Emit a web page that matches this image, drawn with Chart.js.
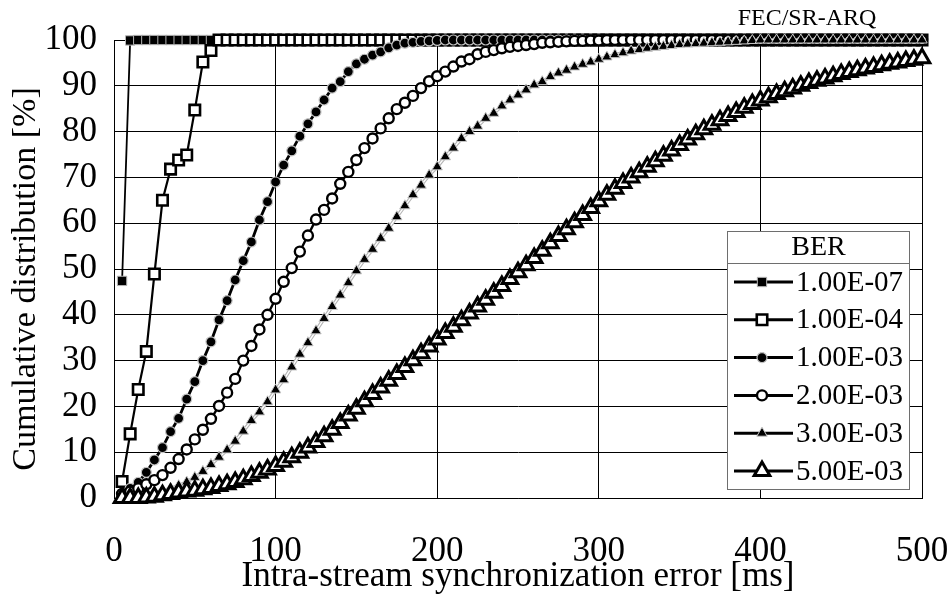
<!DOCTYPE html>
<html>
<head>
<meta charset="utf-8">
<script src="https://cdn.jsdelivr.net/npm/chart.js@4/dist/chart.umd.min.js"></script>
<style>
  html, body { margin: 0; padding: 0; background: #fff; }
  #wrap { width: 951px; height: 598px; }
</style>
</head>
<body>
<div id="wrap"><canvas id="c" width="951" height="598"></canvas></div>
<script>
// Intra-stream synchronization error (ms) at which each CDF sample is taken
const delayMs = [
  5, 10, 15, 20, 25, 30, 35, 40, 45, 50,
  55, 60, 65, 70, 75, 80, 85, 90, 95, 100,
  105, 110, 115, 120, 125, 130, 135, 140, 145, 150,
  155, 160, 165, 170, 175, 180, 185, 190, 195, 200,
  205, 210, 215, 220, 225, 230, 235, 240, 245, 250,
  255, 260, 265, 270, 275, 280, 285, 290, 295, 300,
  305, 310, 315, 320, 325, 330, 335, 340, 345, 350,
  355, 360, 365, 370, 375, 380, 385, 390, 395, 400,
  405, 410, 415, 420, 425, 430, 435, 440, 445, 450,
  455, 460, 465, 470, 475, 480, 485, 490, 495, 500
];

const berLabels = ['1.00E-07', '1.00E-04', '1.00E-03', '2.00E-03', '3.00E-03', '5.00E-03'];

// Cumulative distribution [%] per bit error rate
const ber1e7 = [
  47.4, 99.9, 100, 100, 100, 100, 100, 100, 100, 100,
  100, 100, 100, 100, 100, 100, 100, 100, 100, 100,
  100, 100, 100, 100, 100, 100, 100, 100, 100, 100,
  100, 100, 100, 100, 100, 100, 100, 100, 100, 100,
  100, 100, 100, 100, 100, 100, 100, 100, 100, 100,
  100, 100, 100, 100, 100, 100, 100, 100, 100, 100,
  100, 100, 100, 100, 100, 100, 100, 100, 100, 100,
  100, 100, 100, 100, 100, 100, 100, 100, 100, 100,
  100, 100, 100, 100, 100, 100, 100, 100, 100, 100,
  100, 100, 100, 100, 100, 100, 100, 100, 100, 100
];
const ber1e4 = [
  3.6, 14.0, 23.7, 32.0, 48.9, 65.0, 71.8, 73.8, 74.9, 84.7,
  95.2, 97.7, 100, 100, 100, 100, 100, 100, 100, 100,
  100, 100, 100, 100, 100, 100, 100, 100, 100, 100,
  100, 100, 100, 100, 100, 100, 100, 100, 100, 100,
  100, 100, 100, 100, 100, 100, 100, 100, 100, 100,
  100, 100, 100, 100, 100, 100, 100, 100, 100, 100,
  100, 100, 100, 100, 100, 100, 100, 100, 100, 100,
  100, 100, 100, 100, 100, 100, 100, 100, 100, 100,
  100, 100, 100, 100, 100, 100, 100, 100, 100, 100,
  100, 100, 100, 100, 100, 100, 100, 100, 100, 100
];
const ber1e3 = [
  1.0, 2.1, 3.4, 5.6, 8.3, 11.0, 14.5, 17.4, 21.6, 25.4,
  30.0, 34.1, 38.9, 43.1, 47.6, 51.8, 55.9, 60.7, 64.7, 69.0,
  72.7, 75.8, 79.0, 81.7, 84.3, 86.9, 89.5, 90.9, 93.1, 94.8,
  95.8, 96.7, 97.4, 98.3, 98.9, 99.3, 99.5, 99.7, 99.8, 99.9,
  100, 100, 100, 100, 100, 100, 100, 100, 100, 100,
  100, 100, 100, 100, 100, 100, 100, 100, 100, 100,
  100, 100, 100, 100, 100, 100, 100, 100, 100, 100,
  100, 100, 100, 100, 100, 100, 100, 100, 100, 100,
  100, 100, 100, 100, 100, 100, 100, 100, 100, 100,
  100, 100, 100, 100, 100, 100, 100, 100, 100, 100
];
const ber2e3 = [
  0.9, 1.4, 2.1, 3.0, 3.9, 5.0, 6.6, 8.5, 10.6, 12.8,
  14.9, 17.3, 20.1, 23.0, 26.0, 30.0, 33.2, 36.8, 40.0, 43.5,
  47.2, 50.2, 53.8, 57.3, 60.8, 62.9, 65.4, 68.6, 71.2, 73.8,
  76.4, 78.5, 80.7, 82.9, 84.9, 86.3, 87.8, 89.5, 91.0, 92.1,
  93.1, 94.2, 95.3, 95.8, 96.9, 97.4, 97.8, 98.2, 98.5, 98.7,
  98.9, 99.1, 99.4, 99.5, 99.6, 99.7, 99.8, 99.8, 99.9, 99.9,
  100, 100, 100, 100, 100, 100, 100, 100, 100, 100,
  100, 100, 100, 100, 100, 100, 100, 100, 100, 100,
  100, 100, 100, 100, 100, 100, 100, 100, 100, 100,
  100, 100, 100, 100, 100, 100, 100, 100, 100, 100
];
const ber3e3 = [
  0.2, 0.4, 0.6, 0.9, 1.2, 1.6, 2.1, 2.7, 3.5, 4.5,
  5.8, 7.3, 8.9, 10.5, 12.4, 14.6, 16.9, 18.8, 21.0, 23.6,
  25.8, 28.6, 31.4, 33.9, 36.5, 39.2, 41.8, 44.3, 47.0, 49.6,
  52.1, 54.3, 56.7, 58.9, 61.4, 63.8, 66.2, 68.3, 70.5, 72.3,
  74.5, 76.4, 78.5, 80.0, 81.2, 82.9, 84.0, 85.6, 86.9, 88.0,
  89.1, 90.2, 90.9, 92.0, 92.8, 93.4, 94.1, 94.7, 95.2, 95.8,
  96.3, 96.8, 97.2, 97.6, 97.9, 98.2, 98.4, 98.6, 98.8, 99.0,
  99.1, 99.2, 99.3, 99.4, 99.5, 99.6, 99.7, 99.8, 99.9, 100,
  100, 100, 100, 100, 100, 100, 100, 100, 100, 100,
  100, 100, 100, 100, 100, 100, 100, 100, 100, 100
];
const ber5e3 = [
  0, 0, 0, 0.1, 0.3, 0.6, 0.9, 1.2, 1.4, 1.6,
  1.9, 2.2, 2.6, 3.0, 3.5, 4.1, 4.8, 5.5, 6.2, 7.0,
  7.9, 8.9, 9.9, 11.0, 12.2, 13.5, 14.9, 16.4, 18.0, 19.5,
  21.1, 22.7, 24.1, 25.6, 27.1, 28.6, 30.1, 31.6, 33.1, 34.6,
  36.0, 37.4, 38.8, 40.3, 41.8, 43.3, 44.8, 46.3, 47.8, 49.3,
  50.8, 52.4, 54.0, 55.6, 57.2, 58.7, 60.2, 61.8, 63.3, 64.8,
  66.2, 67.5, 68.8, 70.0, 71.1, 72.3, 73.5, 74.7, 75.9, 77.1,
  78.3, 79.4, 80.5, 81.5, 82.5, 83.4, 84.3, 85.2, 86.0, 86.8,
  87.5, 88.2, 88.8, 89.4, 90.0, 90.6, 91.1, 91.6, 92.1, 92.6,
  93.0, 93.4, 93.8, 94.1, 94.5, 94.8, 95.1, 95.4, 95.7, 96.0
];

const xTicks = [0, 100, 200, 300, 400, 500];
const yTicks = [0, 10, 20, 30, 40, 50, 60, 70, 80, 90, 100];

const berSeries = [ber1e7, ber1e4, ber1e3, ber2e3, ber3e3, ber5e3];

const SERIF = "'Liberation Serif', 'Times New Roman', Times, serif";
const yTitle = 'Cumulative distribution [%]';

// Marker and line appearance for each BER curve
const looks = [
  { pointStyle: 'rect',     radius: 6.6, fill: '#000', edge: '#b5b5b5', edgeW: 1.0, line: '#000', lineW: 1.8 },
  { pointStyle: 'rect',     radius: 7.4, fill: '#fff', edge: '#000',    edgeW: 2.6, line: '#000', lineW: 2.2 },
  { pointStyle: 'circle',   radius: 5.0, fill: '#000', edge: '#c4c4c4', edgeW: 1.2, line: '#000', lineW: 2.8 },
  { pointStyle: 'circle',   radius: 5.0, fill: '#fff', edge: '#000',    edgeW: 2.4, line: '#000', lineW: 2.4 },
  { pointStyle: 'triangle', radius: 6.0, fill: '#000', edge: '#c8c8c8', edgeW: 1.0, line: '#fff', lineW: 1.4 },
  { pointStyle: 'triangle', radius: 9.0, fill: '#fff', edge: '#000',    edgeW: 3.0, line: '#000', lineW: 3.6 }
];
// the 3.00E-03 curve is drawn as a white line between two light grey edges
const casedLine = { index: 4, color: '#b4b4b4', width: 3.6 };

const datasets = berSeries.map((vals, i) => ({
  label: berLabels[i],
  data: vals.map((v, j) => ({ x: delayMs[j], y: v })),
  borderColor: looks[i].line,
  borderWidth: looks[i].lineW,
  pointStyle: looks[i].pointStyle,
  pointRadius: looks[i].radius,
  pointBackgroundColor: looks[i].fill,
  pointBorderColor: looks[i].edge,
  pointBorderWidth: looks[i].edgeW,
  tension: 0,
  fill: false,
  clip: false,
  order: berSeries.length - i
}));

function drawMarker(ctx, look, x, y) {
  const H = Chart.helpers;
  ctx.fillStyle = look.fill;
  ctx.strokeStyle = look.edge;
  ctx.lineWidth = look.edgeW;
  if (H && H.drawPoint) {
    H.drawPoint(ctx, { pointStyle: look.pointStyle, rotation: 0, radius: look.radius, borderWidth: look.edgeW }, x, y);
  }
}

// Grey casing under the white 3.00E-03 line, following the library's point positions
const casing = {
  id: 'casing',
  beforeDatasetDraw(chart, args) {
    if (args.index !== casedLine.index) return;
    const pts = args.meta.data;
    const ctx = chart.ctx;
    ctx.save();
    ctx.strokeStyle = casedLine.color;
    ctx.lineWidth = casedLine.width;
    ctx.lineJoin = 'round';
    ctx.beginPath();
    pts.forEach((p, k) => { if (k === 0) ctx.moveTo(p.x, p.y); else ctx.lineTo(p.x, p.y); });
    ctx.stroke();
    ctx.restore();
  }
};

// Boxed legend with a "BER" header, the scheme label above the plot and the y-axis title
const berLegend = {
  id: 'berLegend',
  afterDatasetsDraw(chart) {
    const ctx = chart.ctx;
    ctx.save();
    const L = 727.5, T = 231.5, R = 909.5, B = 489.5, head = 263.5;
    ctx.fillStyle = '#fff';
    ctx.fillRect(L, T, R - L, B - T);
    ctx.strokeStyle = '#6e6e6e';
    ctx.lineWidth = 1;
    ctx.strokeRect(L, T, R - L, B - T);
    ctx.beginPath();
    ctx.moveTo(L, head);
    ctx.lineTo(R, head);
    ctx.stroke();

    ctx.fillStyle = '#000';
    ctx.font = '28px ' + SERIF;
    ctx.textAlign = 'center';
    ctx.textBaseline = 'middle';
    ctx.fillText('BER', (L + R) / 2, 248);

    const rowY0 = 282, rowStep = 37.8;
    berLabels.forEach((name, i) => {
      const y = rowY0 + i * rowStep;
      ctx.strokeStyle = '#000';
      ctx.lineWidth = 3;
      ctx.beginPath();
      ctx.moveTo(734, y);
      ctx.lineTo(793, y);
      ctx.stroke();
      drawMarker(ctx, looks[i], 762, y);
      ctx.fillStyle = '#000';
      ctx.font = '29px ' + SERIF;
      ctx.textAlign = 'left';
      ctx.textBaseline = 'middle';
      ctx.fillText(name, 796, y + 1);
    });

    ctx.font = '24px ' + SERIF;
    ctx.textAlign = 'center';
    ctx.textBaseline = 'middle';
    ctx.fillStyle = '#000';
    ctx.fillText('FEC/SR-ARQ', 807, 19);

    ctx.translate(26, 279);
    ctx.rotate(-Math.PI / 2);
    ctx.font = '34px ' + SERIF;
    ctx.fillText(yTitle, 0, 0);
    ctx.restore();
  }
};

new Chart(document.getElementById('c'), {
  type: 'line',
  data: { datasets },
  plugins: [casing, berLegend],
  options: {
    responsive: false,
    animation: false,
    events: [],
    layout: { padding: { top: 40, right: 29, left: 0, bottom: 0 } },
    plugins: { legend: { display: false }, tooltip: { enabled: false }, title: { display: false } },
    scales: {
      x: {
        type: 'linear',
        min: 0, max: 500,
        afterFit: (s) => { s.height = 100; s.paddingLeft = 0; s.paddingRight = 0; },
        afterBuildTicks: (s) => { s.ticks = xTicks.map(v => ({ value: v })); },
        ticks: { color: '#000', padding: 33, maxRotation: 0, font: { family: SERIF, size: 35 } },
        grid: { color: '#000', lineWidth: 1, drawTicks: false },
        border: { color: '#000', width: 1 },
        title: { display: true, text: 'Intra-stream synchronization error [ms]', color: '#000',
                 font: { family: SERIF, size: 35 }, padding: { top: 0, bottom: 0 } }
      },
      y: {
        type: 'linear',
        min: 0, max: 100,
        afterFit: (s) => { s.width = 114; s.paddingTop = 0; s.paddingBottom = 0; },
        afterBuildTicks: (s) => { s.ticks = yTicks.map(v => ({ value: v })); },
        ticks: { color: '#000', padding: 17, font: { family: SERIF, size: 35 } },
        grid: { color: '#000', lineWidth: 1, drawTicks: false },
        border: { color: '#000', width: 1 },
        title: { display: false }
      }
    }
  }
});
</script>
</body>
</html>
